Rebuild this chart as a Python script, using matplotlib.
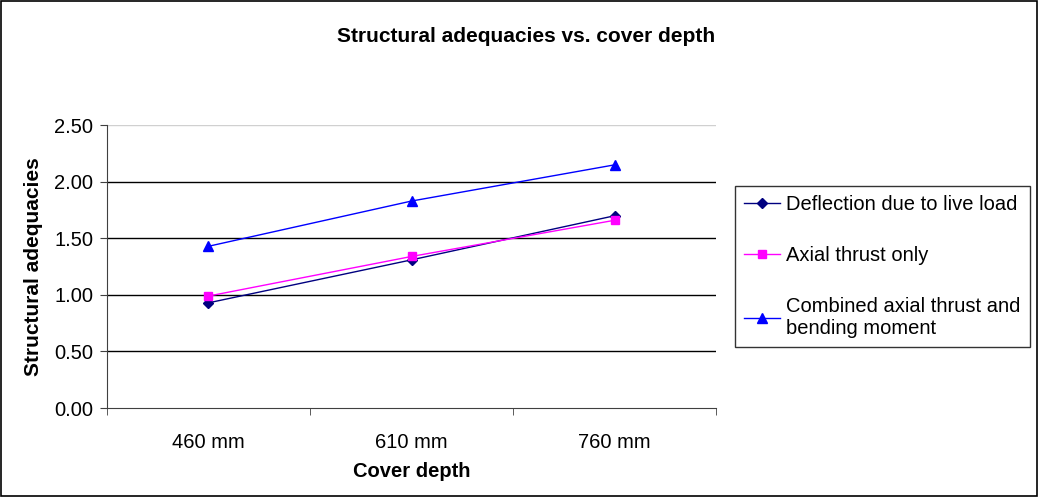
import matplotlib.pyplot as plt
from matplotlib.patches import Rectangle

plt.rcParams['font.family'] = ['Liberation Sans', 'DejaVu Sans']

# data
depths = ["460 mm", "610 mm", "760 mm"]
deflection = [0.93, 1.31, 1.70]
axial = [0.99, 1.34, 1.66]
combined = [1.43, 1.83, 2.15]
yticks = [0.0, 0.5, 1.0, 1.5, 2.0, 2.5]

fig = plt.figure(figsize=(10.38, 4.97), dpi=100)
ax = fig.add_axes([0.103, 0.179, 0.587, 0.569])

x = list(range(len(depths)))
ax.plot(x, deflection, color='#000080', lw=1, marker='D', ms=5, label='Deflection due to live load')
ax.plot(x, axial, color='#FF00FF', lw=1, marker='s', ms=6, label='Axial thrust only')
ax.plot(x, combined, color='#0000FF', lw=1, marker='^', ms=7, label='Combined axial thrust and\nbending moment')

ax.set_xlim(-0.5, len(depths) - 0.5)
ax.set_ylim(0, 2.5)
ax.set_yticks(yticks)
ax.set_yticklabels(["%.2f" % v for v in yticks], fontsize=14.5)
ax.set_xticks(x)
ax.set_xticklabels(depths, fontsize=14.5)
ax.tick_params(axis='x', length=0, pad=18)
ax.set_xticks([i - 0.5 for i in range(len(depths) + 1)], minor=True)
ax.tick_params(axis='x', which='minor', length=5, direction='out', color='#404040')
ax.tick_params(axis='y', length=5, direction='out', color='#404040', pad=5)

for v in yticks[1:]:
    ax.axhline(v, color='black' if v < 2.5 else '#d0d0d0', lw=1, zorder=0)

for s in ['top', 'right']:
    ax.spines[s].set_visible(False)
ax.spines['left'].set_color('#404040')
ax.spines['bottom'].set_color('#404040')

ax.set_xlabel("Cover depth", fontsize=14.5, fontweight='bold')
ax.xaxis.set_label_coords(0.5, -0.226)
ax.xaxis.label.set_va('center')
ax.set_ylabel("Structural adequacies", fontsize=15, fontweight='bold')
ax.yaxis.set_label_coords(-0.12, 0.5)
ax.yaxis.label.set_va('center')
fig.text(0.507, 0.9256, "Structural adequacies vs. cover depth", ha='center', va='center',
         fontsize=15, fontweight='bold')

leg = fig.legend(loc='upper left', bbox_to_anchor=(0.708, 0.626), fontsize=14.5,
                 frameon=True, fancybox=False, edgecolor='black', labelspacing=1.6,
                 handlelength=1.8, handletextpad=0.3, borderpad=0.45, borderaxespad=0)
leg.get_frame().set_linewidth(1)

fig.add_artist(Rectangle((0.001, 0.002), 0.998, 0.996, transform=fig.transFigure,
                         fill=False, edgecolor='black', lw=1.2))

fig.savefig("out.png", dpi=100)
